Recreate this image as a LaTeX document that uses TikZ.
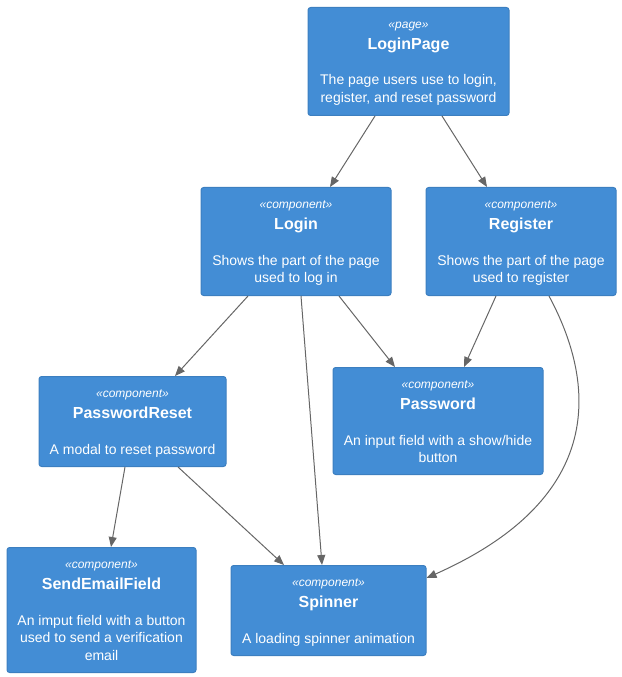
\documentclass[tikz,border=0pt]{standalone}
\usepackage{fontspec}
\setmainfont{Liberation Sans}
\usetikzlibrary{arrows.meta,calc}
\definecolor{boxfill}{HTML}{438DD5}
\definecolor{boxline}{HTML}{3C7FC0}
\definecolor{edgecol}{HTML}{666666}
\tikzset{
  comp/.style={draw=boxline, fill=boxfill, rounded corners=2pt, line width=0.75pt, anchor=north, inner sep=0pt},
  stereo/.style={text=white, font=\fontsize{9}{11}\selectfont\itshape, anchor=base, inner sep=0pt},
  ttl/.style={text=white, font=\fontsize{12}{14}\selectfont\bfseries, anchor=base, inner sep=0pt},
  desc/.style={text=white, font=\fontsize{10.5}{13}\selectfont, anchor=base, inner sep=0pt},
  rel/.style={draw=edgecol, line width=0.75pt, -{Triangle[length=7.5pt,width=6pt]}}
}
\newcommand\compbox[7]{%
  \node[comp, minimum width=#4*0.75pt, minimum height=#5*0.75pt] (#1) at (#2,#3) {};
  \node[stereo] (#1-s) at ($(#1.north)+(0,21.5)$) {«#6»};
  \node[ttl] (#1-t) at ($(#1.north)+(0,42.5)$) {#7};
}
\newcommand\descline[3]{\node[desc] (#1-d#2) at ($(#1.north)+(0,{78+17.5*(#2-1)})$) {#3};}
\begin{document}
\begin{tikzpicture}[x=0.75pt, y=-0.75pt]
\useasboundingbox (0,0) rectangle (621,677);
% components
\compbox{lp}{408.5}{7}{201}{108}{page}{LoginPage}
\descline{lp}{1}{The page users use to login,}
\descline{lp}{2}{register, and reset password}

\compbox{login}{296}{187}{190}{108}{component}{Login}
\descline{login}{1}{Shows the part of the page}
\descline{login}{2}{used to log in}

\compbox{reg}{521}{187}{190}{108}{component}{Register}
\descline{reg}{1}{Shows the part of the page}
\descline{reg}{2}{used to register}

\compbox{pr}{132.5}{376}{187}{90}{component}{PasswordReset}
\descline{pr}{1}{A modal to reset password}

\compbox{pw}{438}{367}{210}{107}{component}{Password}
\descline{pw}{1}{An input field with a show/hide}
\descline{pw}{2}{button}

\compbox{se}{101.5}{547}{189}{125}{component}{SendEmailField}
\descline{se}{1}{An imput field with a button}
\descline{se}{2}{used to send a verification}
\descline{se}{3}{email}

\compbox{spin}{328.5}{565}{195}{90}{component}{Spinner}
\descline{spin}{1}{A loading spinner animation}

% relations
\draw[rel] ($(lp.south)+(-33.5,0)$) -- ($(login.north)+(34,0)$);
\draw[rel] ($(lp.south)+(33.5,0)$) -- ($(reg.north)+(-34,0)$);
\draw[rel] ($(login.south)+(-48,0)$) -- ($(pr.north)+(42.5,0)$);
\draw[rel] ($(login.south)+(43,0)$) -- ($(pw.north)+(-43,0)$);
\draw[rel] ($(login.south)+(5,0)$) -- ($(spin.north)+(-6.5,0)$);
\draw[rel] ($(reg.south)+(-25,0)$) -- ($(pw.north)+(26,0)$);
\draw[rel] ($(reg.south)+(28,0)$) .. controls ($(reg.south)+(79,95)$) and ($(reg.south)+(79,205)$) .. ($(spin.north east)+(0,13)$);
\draw[rel] ($(pr.south)+(-7.5,0)$) -- ($(se.north)+(9.5,0)$);
\draw[rel] ($(pr.south)+(45.5,0)$) -- ($(spin.north)+(-44.5,0)$);
\end{tikzpicture}
\end{document}
